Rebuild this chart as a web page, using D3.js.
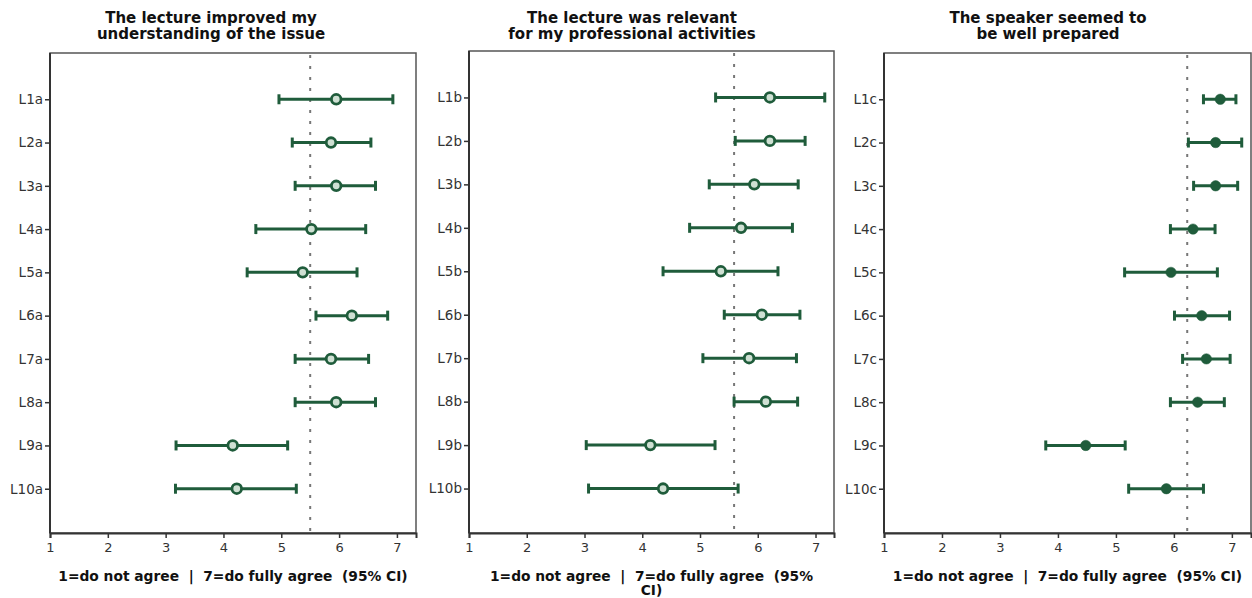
<!DOCTYPE html>
<html>
<head>
<meta charset="utf-8">
<script src="https://cdn.jsdelivr.net/npm/d3@7/dist/d3.min.js"></script>
<style>
  html, body { margin: 0; padding: 0; background: #fff; }
  svg { display: block; }
  text { font-family: "DejaVu Sans", Verdana, sans-serif; }
</style>
</head>
<body>
<svg id="chart" width="1252" height="598"></svg>
<script>
// Lecture evaluation: mean rating with 95% CI for ten lectures, three questions.
const lectures = ["L1", "L2", "L3", "L4", "L5", "L6", "L7", "L8", "L9", "L10"];
const xTicks = [1, 2, 3, 4, 5, 6, 7];

// Panel A: "The lecture improved my understanding of the issue"
const meanA = [5.95, 5.86, 5.95, 5.52, 5.37, 6.22, 5.86, 5.95, 4.16, 4.23];
const lowA  = [4.96, 5.19, 5.24, 4.56, 4.41, 5.60, 5.24, 5.24, 3.18, 3.17];
const highA = [6.93, 6.55, 6.63, 6.46, 6.31, 6.84, 6.51, 6.63, 5.11, 5.26];
const refA = 5.5;

// Panel B: "The lecture was relevant for my professional activities"
const meanB = [6.21, 6.21, 5.94, 5.71, 5.36, 6.07, 5.85, 6.14, 4.14, 4.36];
const lowB  = [5.27, 5.61, 5.16, 4.82, 4.36, 5.42, 5.05, 5.59, 3.03, 3.07];
const highB = [7.16, 6.82, 6.70, 6.60, 6.35, 6.73, 6.67, 6.69, 5.26, 5.66];
const refB = 5.59;

// Panel C: "The speaker seemed to be well prepared"
const meanC = [6.80, 6.72, 6.72, 6.33, 5.95, 6.48, 6.56, 6.41, 4.48, 5.87];
const lowC  = [6.51, 6.25, 6.34, 5.94, 5.15, 6.01, 6.15, 5.94, 3.79, 5.22];
const highC = [7.07, 7.17, 7.10, 6.71, 6.75, 6.96, 6.97, 6.87, 5.16, 6.51];
const refC = 6.23;

const titles = [
  ["The lecture improved my", "understanding of the issue"],
  ["The lecture was relevant", "for my professional activities"],
  ["The speaker seemed to", "be well prepared"]
];
const axisTitles = [
  ["1=do not agree  |  7=do fully agree  (95% CI)"],
  ["1=do not agree  |  7=do fully agree  (95%", "CI)"],
  ["1=do not agree  |  7=do fully agree  (95% CI)"]
];
const suffixes = ["a", "b", "c"];

const panels = [
  { mean: meanA, low: lowA, high: highA, ref: refA, hollow: true,
    x0: 50, x1: 416, top: 53, bottom: 533, xMax: 7.33, cx: 211 },
  { mean: meanB, low: lowB, high: highB, ref: refB, hollow: true,
    x0: 469, x1: 834, top: 51, bottom: 533, xMax: 7.32, cx: 632 },
  { mean: meanC, low: lowC, high: highC, ref: refC, hollow: false,
    x0: 884, x1: 1251, top: 53, bottom: 533, xMax: 7.33, cx: 1048 }
];

const green = "#1f5c3b";
const svg = d3.select("#chart");

panels.forEach((p, i) => {
  const g = svg.append("g");
  const cats = lectures.map(l => l + suffixes[i]);
  const x = d3.scaleLinear().domain([1, p.xMax]).range([p.x0, p.x1]);
  const y = d3.scalePoint().domain(cats).range([p.top + 3, p.bottom - 1]).padding(1);

  // title
  const t = g.append("text")
    .attr("x", p.cx).attr("y", 23)
    .attr("text-anchor", "middle")
    .attr("font-size", 15).attr("font-weight", "bold").attr("fill", "#111");
  titles[i].forEach((line, k) => {
    t.append("tspan").attr("x", p.cx).attr("dy", k === 0 ? 0 : 16).text(line);
  });

  // plot frame
  g.append("rect")
    .attr("x", p.x0).attr("y", p.top)
    .attr("width", p.x1 - p.x0).attr("height", p.bottom - p.top)
    .attr("fill", "#fff").attr("stroke", "#555").attr("stroke-width", 1.5);

  // reference line
  g.append("line")
    .attr("x1", x(p.ref)).attr("x2", x(p.ref))
    .attr("y1", p.top + 2).attr("y2", p.bottom)
    .attr("stroke", "#777").attr("stroke-width", 2)
    .attr("stroke-dasharray", "3,8");

  // x axis
  const xa = g.append("g")
    .attr("transform", `translate(0,${p.bottom})`)
    .call(d3.axisBottom(x).tickValues(xTicks).tickFormat(d3.format("d")).tickSize(5).tickPadding(5));
  xa.select(".domain").attr("stroke", "#333").attr("stroke-width", 2);
  xa.selectAll(".tick line").attr("stroke", "#333").attr("stroke-width", 1.5);
  xa.selectAll(".tick text").attr("font-size", 13).attr("fill", "#333")
    .attr("font-family", "DejaVu Sans, sans-serif");

  // y axis
  const ya = g.append("g")
    .attr("transform", `translate(${p.x0},0)`)
    .call(d3.axisLeft(y).tickSize(5).tickPadding(2));
  ya.select(".domain").attr("stroke", "#333").attr("stroke-width", 2)
    .attr("d", `M0,${p.top}V${p.bottom}`);
  ya.selectAll(".tick line").attr("stroke", "#333").attr("stroke-width", 1.5);
  ya.selectAll(".tick text").attr("font-size", 13.5).attr("fill", "#333")
    .attr("font-family", "DejaVu Sans, sans-serif");

  // error bars
  const rows = cats.map((c, k) => ({ c, m: p.mean[k], lo: p.low[k], hi: p.high[k] }));
  const bars = g.append("g").selectAll("g").data(rows).join("g");
  bars.append("line")
    .attr("x1", d => x(d.lo)).attr("x2", d => x(d.hi))
    .attr("y1", d => y(d.c)).attr("y2", d => y(d.c))
    .attr("stroke", green).attr("stroke-width", 3);
  bars.selectAll("line.cap").data(d => [[d.lo, d.c], [d.hi, d.c]]).join("line")
    .attr("class", "cap")
    .attr("x1", d => x(d[0])).attr("x2", d => x(d[0]))
    .attr("y1", d => y(d[1]) - 5).attr("y2", d => y(d[1]) + 5)
    .attr("stroke", green).attr("stroke-width", 3);
  bars.append("circle")
    .attr("cx", d => x(d.m)).attr("cy", d => y(d.c))
    .attr("r", p.hollow ? 4.8 : 5.2)
    .attr("fill", p.hollow ? "#cfe0d3" : green)
    .attr("stroke", green).attr("stroke-width", p.hollow ? 2.8 : 0.5);

  // x axis title
  const at = g.append("text")
    .attr("x", (p.x0 + p.x1) / 2).attr("y", 581)
    .attr("text-anchor", "middle")
    .attr("font-size", 13.8).attr("font-weight", "bold").attr("fill", "#111")
    .attr("xml:space", "preserve").style("white-space", "pre");
  axisTitles[i].forEach((line, k) => {
    at.append("tspan").attr("x", (p.x0 + p.x1) / 2).attr("dy", k === 0 ? 0 : 14).text(line);
  });
});
</script>
</body>
</html>
